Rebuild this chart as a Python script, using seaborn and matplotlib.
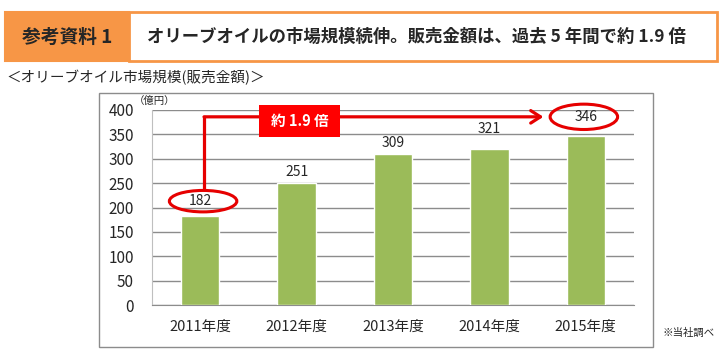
import matplotlib
matplotlib.use('Agg')
import matplotlib.pyplot as plt
from matplotlib.patches import Rectangle, Ellipse
import pandas as pd
import seaborn as sns

# values (億円)
years = ['2011年度', '2012年度', '2013年度', '2014年度', '2015年度']
sales = [182, 251, 309, 321, 346]
yticks = [0, 50, 100, 150, 200, 250, 300, 350, 400]

sns.set_style('white')
plt.rcParams['font.family'] = ['Noto Sans CJK JP', 'DejaVu Sans']

W, H = 723, 360
fig = plt.figure(figsize=(W / 100, H / 100), dpi=100)


def fx(x):
    return x / W


def fy(y):
    return 1 - y / H


orange = '#F79646'
red = '#E60000'
green = '#9BBB59'
grid = '#8C8C8C'

# title banner
fig.patches.append(Rectangle((fx(5), fy(61)), fx(124), 49 / H, transform=fig.transFigure,
                             facecolor=orange, edgecolor=orange, lw=1.5))
fig.patches.append(Rectangle((fx(129), fy(61)), fx(588), 49 / H, transform=fig.transFigure,
                             facecolor='white', edgecolor=orange, lw=2))
fig.text(fx(67), fy(37), '参考資料 1', fontsize=13.5, fontweight='bold', ha='center', va='center')
fig.text(fx(147), fy(37), 'オリーブオイルの市場規模続伸。販売金額は、過去 5 年間で約 1.9 倍',
         fontsize=12.5, fontweight='bold', ha='left', va='center')
fig.text(fx(6), fy(78), '＜オリーブオイル市場規模(販売金額)＞', fontsize=10.5, ha='left', va='center')

# chart frame
fig.patches.append(Rectangle((fx(99), fy(347)), fx(554), 254 / H, transform=fig.transFigure,
                             facecolor='none', edgecolor='#8C8C8C', lw=1))
fig.text(fx(134), fy(101), '（億円）', fontsize=7.5, ha='left', va='center')
fig.text(fx(662), fy(333), '※当社調べ', fontsize=7.5, ha='left', va='center')

ax = fig.add_axes([fx(152), fy(305), (634 - 152) / W, (305 - 110) / H])
ax.set_zorder(3)
ax.patch.set_alpha(0)
df = pd.DataFrame({'year': years, 'sales': sales})
sns.barplot(data=df, x='year', y='sales', color=green, saturation=1, width=0.4, ax=ax, zorder=3)

ax.set_ylim(0, 400)
ax.set_xlim(-0.5, len(years) - 0.5)
ax.set_yticks(yticks)
ax.yaxis.grid(True, color=grid, lw=1)
ax.set_axisbelow(True)
ax.set_xlabel('')
ax.set_ylabel('')
for s in ['top', 'right']:
    ax.spines[s].set_visible(False)
ax.spines['left'].set_color('#BFBFBF')
ax.spines['bottom'].set_color(grid)
ax.tick_params(axis='y', length=0, pad=13, labelsize=11)
ax.tick_params(axis='x', which='major', length=0, pad=11, labelsize=10.5)
ax.set_xticks([i - 0.5 for i in range(len(years) + 1)], minor=True)
ax.tick_params(axis='x', which='minor', length=5, color=grid, direction='out')

# data labels (manually nudged like the original)
label_offsets = [11, 7.5, 8, 14, 14]
for i, v in enumerate(sales):
    ax.annotate(str(v), (i, v), xytext=(0, label_offsets[i]), textcoords='offset points',
                ha='center', va='center', fontsize=10, zorder=6)

# red highlight: ellipses, connector arrow, ratio box
first, last = sales[0], sales[-1]
y_first = first + 31
y_last = last + 40
ax.add_patch(Ellipse((0.03, y_first), 0.70, 44, fill=False, edgecolor=red, lw=2.2,
                     clip_on=False, zorder=7))
ax.add_patch(Ellipse((len(sales) - 1 - 0.02, y_last), 0.70, 52, fill=False, edgecolor=red,
                     lw=2.2, clip_on=False, zorder=7))
ax.plot([0.04, 0.04], [y_first + 27, y_last], color=red, lw=2.3, clip_on=False, zorder=5,
        solid_capstyle='projecting')
ax.annotate('', xy=(len(sales) - 1 - 0.44, y_last), xytext=(0.04, y_last),
            arrowprops=dict(arrowstyle='->,head_length=0.7,head_width=0.45', color=red, lw=2.3,
                            shrinkA=0, shrinkB=0), annotation_clip=False, zorder=5)
ax.add_patch(Rectangle((0.61, 345), 0.84, 65, facecolor='#FF0000', edgecolor='none',
                       clip_on=False, zorder=6))
ax.text(1.03, 377, f'約 {last / first:.1f} 倍', color='white', fontsize=10.5, fontweight='bold',
        ha='center', va='center', zorder=7)

fig.savefig('out.png', dpi=100)
